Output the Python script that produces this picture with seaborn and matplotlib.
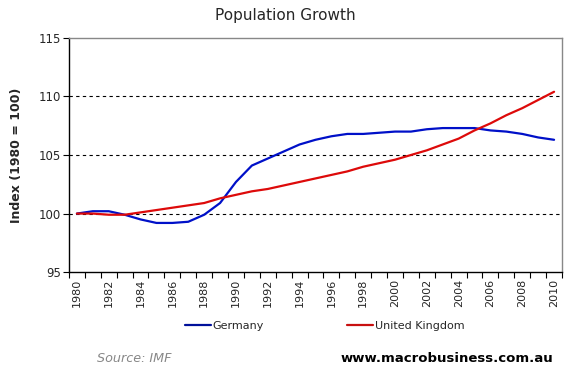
import numpy as np
import pandas as pd
import seaborn as sns
import matplotlib
matplotlib.use("Agg")
import matplotlib.pyplot as plt
from matplotlib.ticker import FixedLocator
from matplotlib.lines import Line2D

years = list(range(1980, 2011))
germany = [100.0, 100.2, 100.2, 99.9, 99.5, 99.2, 99.2, 99.3, 99.9, 100.9,
           102.7, 104.1, 104.7, 105.3, 105.9, 106.3, 106.6, 106.8, 106.8, 106.9,
           107.0, 107.0, 107.2, 107.3, 107.3, 107.3, 107.1, 107.0, 106.8, 106.5,
           106.3]
uk = [100.0, 100.0, 99.9, 99.9, 100.1, 100.3, 100.5, 100.7, 100.9, 101.3,
      101.6, 101.9, 102.1, 102.4, 102.7, 103.0, 103.3, 103.6, 104.0, 104.3,
      104.6, 105.0, 105.4, 105.9, 106.4, 107.1, 107.7, 108.4, 109.0, 109.7,
      110.4]
series_names = ["Germany", "United Kingdom"]
y_ticks = [95, 100, 105, 110, 115]

sns.set_style("white")
plt.rcParams['font.family'] = ['DejaVu Sans']

df = pd.DataFrame({
    "Year": years * 2,
    "Index": germany + uk,
    "Series": [series_names[0]] * len(years) + [series_names[1]] * len(years),
})

fig = plt.figure(figsize=(5.7, 3.79), dpi=100)
ax = fig.add_axes([0.121, 0.282, 0.865, 0.618])

palette = {"Germany": "#0010C8", "United Kingdom": "#DD0A0A"}
sns.lineplot(data=df, x="Year", y="Index", hue="Series", palette=palette,
             linewidth=1.6, ax=ax, legend=False)

ax.set_xlim(1979.5, 2010.5)
ax.set_ylim(95, 115)
ax.set_yticks(y_ticks)
ax.set_yticklabels([str(v) for v in y_ticks], fontsize=8.5)
for v in [100, 105, 110]:
    ax.axhline(v, color="black", linestyle=(0, (3, 3)), linewidth=0.8, zorder=0)

ax.set_xticks(years[::2])
ax.set_xticklabels([str(y) for y in years[::2]], rotation=90, fontsize=8)
ax.xaxis.set_minor_locator(FixedLocator(np.arange(1979.5, 2011, 1.0)))
ax.tick_params(axis="x", which="major", length=0, pad=5)
ax.tick_params(axis="x", which="minor", length=4, width=0.8, color="black", direction="out", bottom=True)
ax.tick_params(axis="y", which="major", length=4, width=0.8, color="black", direction="out", left=True, pad=2)

for s in ["left", "bottom"]:
    ax.spines[s].set_color("black")
    ax.spines[s].set_linewidth(1.0)
for s in ["top", "right"]:
    ax.spines[s].set_visible(True)
    ax.spines[s].set_color("#888888")
    ax.spines[s].set_linewidth(1.0)

ax.set_xlabel("")
ax.set_ylabel("Index (1980 = 100)", fontsize=9, fontweight="bold", labelpad=11)

fig.text(0.5, 0.96, "Population Growth", ha="center", va="center", fontsize=11)

handles = [Line2D([], [], color="#00109A", linewidth=1.6),
           Line2D([], [], color="#C81010", linewidth=1.6)]
fig.legend(handles, series_names, loc="center", bbox_to_anchor=(0.57, 0.14),
           ncol=2, frameon=False, fontsize=8, handlelength=2.3, handletextpad=0.2,
           columnspacing=7.5)

fig.text(0.17, 0.055, "Source: IMF", ha="left", va="center", fontsize=9.2,
         style="italic", color="#888888")
fig.text(0.97, 0.055, "www.macrobusiness.com.au", ha="right", va="center",
         fontsize=9.5, fontweight="bold", color="black")

fig.savefig("out.png", dpi=100)
